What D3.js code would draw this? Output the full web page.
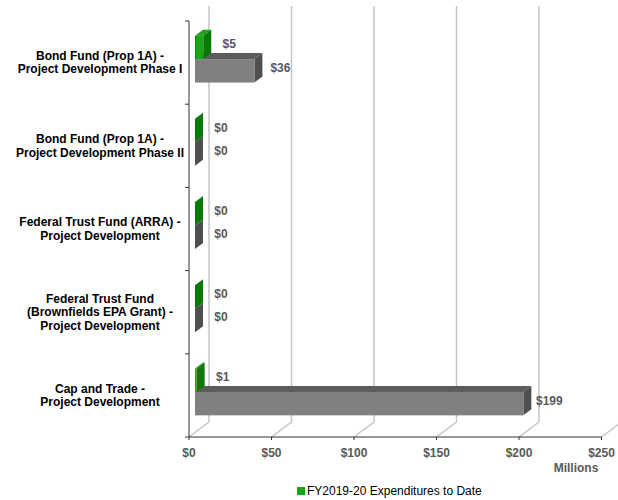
<!DOCTYPE html>
<html>
<head>
<meta charset="utf-8">
<script src="https://cdn.jsdelivr.net/npm/d3@7"></script>
<style>
  html, body { margin: 0; padding: 0; background: #fff; }
  svg { display: block; font-family: "Liberation Sans", Arial, sans-serif; }
</style>
</head>
<body>
<svg id="chart" width="618" height="500"></svg>
<script>
// Fund sources (label lines), top to bottom
const categories = [
  ["Bond Fund (Prop 1A) -", "Project Development Phase I"],
  ["Bond Fund (Prop 1A) -", "Project Development Phase II"],
  ["Federal Trust Fund (ARRA) -", "Project Development"],
  ["Federal Trust Fund", "(Brownfields EPA Grant) -", "Project Development"],
  ["Cap and Trade -", "Project Development"]
];
// Values in millions of dollars
const expendituresToDate = [5, 0, 0, 0, 1];
const totalAmounts = [36, 0, 0, 0, 199];
const legendLabel = "FY2019-20 Expenditures to Date";
const axisTicks = [0, 50, 100, 150, 200, 250];
const axisUnit = "Millions";

const svg = d3.select("#chart");

// Plot frame: front plane and the depth shift to the back wall
const plotLeft = 189, plotRight = 601.5, plotTop = 21, plotBottom = 437;
const DX = 20, DY = -15;          // depth of the plot box
const FX = 6, FY = -3.5;          // bars sit a little behind the front plane
const BX = 8, BY = -6;            // bar depth

const x = d3.scaleLinear().domain([0, 250]).range([plotLeft, plotRight]);
const y = d3.scaleBand()
  .domain(d3.range(categories.length))
  .range([plotTop, plotBottom])
  .paddingInner(0.436)
  .paddingOuter(0.218);
const ySeries = d3.scaleBand().domain(["spent", "total"]).range([0, y.bandwidth()]);

const money = v => "$" + d3.format(",")(v);

// Back wall gridlines and floor diagonals
const grid = svg.append("g").attr("stroke", "#c4c4c4").attr("stroke-width", 1.5).attr("fill", "none");
axisTicks.forEach(t => {
  grid.append("line")
    .attr("x1", x(t) + DX).attr("x2", x(t) + DX)
    .attr("y1", plotTop + DY).attr("y2", plotBottom + DY);
  grid.append("line")
    .attr("x1", x(t)).attr("y1", plotBottom)
    .attr("x2", x(t) + DX).attr("y2", plotBottom + DY);
});

// Bottom value axis
const xAxis = svg.append("g");
xAxis.append("line")
  .attr("x1", plotLeft).attr("x2", x(250))
  .attr("y1", plotBottom).attr("y2", plotBottom)
  .attr("stroke", "#333").attr("stroke-width", 1);
xAxis.selectAll("line.tick").data(axisTicks).join("line")
  .attr("class", "tick")
  .attr("x1", d => x(d)).attr("x2", d => x(d))
  .attr("y1", plotBottom).attr("y2", plotBottom + 3)
  .attr("stroke", "#333");
xAxis.selectAll("text").data(axisTicks).join("text")
  .attr("x", d => x(d)).attr("y", plotBottom + 20)
  .attr("text-anchor", "middle")
  .attr("font-size", 12).attr("font-weight", "bold").attr("fill", "#595959")
  .text(money);
svg.append("text")
  .attr("x", 576).attr("y", 472)
  .attr("text-anchor", "middle")
  .attr("font-size", 12).attr("font-weight", "bold").attr("fill", "#595959")
  .text(axisUnit);

// Left category axis
const yAxis = svg.append("g");
yAxis.append("line")
  .attr("x1", plotLeft).attr("x2", plotLeft)
  .attr("y1", plotTop).attr("y2", plotBottom)
  .attr("stroke", "#333");
const boundaries = d3.range(categories.length + 1).map(i => plotTop + i * y.step());
yAxis.selectAll("line.tick").data(boundaries).join("line")
  .attr("class", "tick")
  .attr("x1", plotLeft - 4).attr("x2", plotLeft)
  .attr("y1", d => d).attr("y2", d => d)
  .attr("stroke", "#333");

const lineH = 13.5;
categories.forEach((lines, i) => {
  const cy = y(i) + y.bandwidth() / 2;
  const t = svg.append("text")
    .attr("text-anchor", "middle")
    .attr("font-size", 12).attr("font-weight", "bold").attr("fill", "#000");
  lines.forEach((ln, j) => {
    t.append("tspan")
      .attr("x", 100)
      .attr("y", cy - (lines.length - 1) * lineH / 2 + j * lineH + 4)
      .text(ln);
  });
});

// 3D bar drawing
function bar3d(g, v, y0, h, colors) {
  const x0 = x(0) + FX, x1 = x(v) + FX;
  const yt = y0 + FY, yb = y0 + h + FY;
  // top face
  g.append("polygon")
    .attr("points", [[x0, yt], [x1, yt], [x1 + BX, yt + BY], [x0 + BX, yt + BY]].join(" "))
    .attr("fill", colors.top);
  // side face
  g.append("polygon")
    .attr("points", [[x1, yt], [x1 + BX, yt + BY], [x1 + BX, yb + BY], [x1, yb]].join(" "))
    .attr("fill", colors.side);
  // front face
  if (x1 > x0) {
    g.append("rect")
      .attr("x", x0).attr("y", yt)
      .attr("width", x1 - x0).attr("height", h)
      .attr("fill", colors.front);
  }
}

const defs = svg.append("defs");
const grad = defs.append("linearGradient").attr("id", "greenFront")
  .attr("x1", "0").attr("x2", "1").attr("y1", "0").attr("y2", "0");
grad.append("stop").attr("offset", "0").attr("stop-color", "#0c870c");
grad.append("stop").attr("offset", "0.25").attr("stop-color", "#19a819");
grad.append("stop").attr("offset", "1").attr("stop-color", "#1aa31a");

const grayColors = { front: "#808080", top: "#5c5c5c", side: "#4f4f4f" };
const greenColors = { front: "url(#greenFront)", top: "#1f9f1f", side: "#0a790a" };

const bars = svg.append("g");
categories.forEach((_, i) => {
  bar3d(bars, totalAmounts[i], y(i) + ySeries("total"), ySeries.bandwidth(), grayColors);
  bar3d(bars, expendituresToDate[i], y(i) + ySeries("spent"), ySeries.bandwidth(), greenColors);
});

// Value labels
const labelStyle = sel => sel
  .attr("text-anchor", "middle")
  .attr("font-size", 12).attr("font-weight", "bold").attr("fill", "#595959");
categories.forEach((_, i) => {
  [["spent", expendituresToDate[i]], ["total", totalAmounts[i]]].forEach(([key, v]) => {
    const cy = y(i) + ySeries(key) + ySeries.bandwidth() / 2 + FY - 3;
    svg.append("text").call(labelStyle)
      .attr("x", x(v) + FX + BX + 18)
      .attr("y", cy + 4)
      .text(money(v));
  });
});

// Legend
const legend = svg.append("g").attr("transform", "translate(297,487)");
legend.append("rect").attr("width", 8).attr("height", 8).attr("fill", "#1aa31a");
legend.append("text")
  .attr("x", 10).attr("y", 8)
  .attr("font-size", 12).attr("fill", "#000")
  .text(legendLabel);
</script>
</body>
</html>
